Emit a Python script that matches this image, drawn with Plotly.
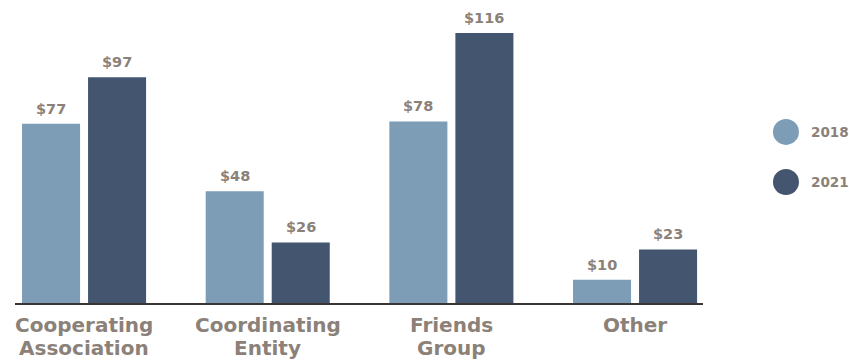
import plotly.graph_objects as go

# Categories and spending per group (in dollars)
categories = ["Cooperating\nAssociation", "Coordinating\nEntity", "Friends\nGroup", "Other"]
years = ["2018", "2021"]
values_2018 = [77, 48, 78, 10]
values_2021 = [97, 26, 116, 23]

colors = {"2018": "#7d9db6", "2021": "#44556f"}
text_color = "#8b8178"
font_family = "'DejaVu Sans', Verdana, sans-serif"

x_pos = list(range(len(categories)))
bar_shift = {"2018": -33, "2021": 33}  # pixel offset of each bar within its group

fig = go.Figure()
for year, vals in zip(years, [values_2018, values_2021]):
    fig.add_trace(go.Bar(
        x=x_pos,
        y=vals,
        name=year,
        marker=dict(color=colors[year], line=dict(width=0)),
        showlegend=False,
        hoverinfo="skip",
    ))
    # Dollar value above each bar
    for xp, v in zip(x_pos, vals):
        fig.add_annotation(
            x=xp, y=v, xref="x", yref="y",
            text=f"${v}", showarrow=False,
            xanchor="center", yanchor="bottom",
            xshift=bar_shift[year], yshift=5,
            font=dict(family=font_family, size=14.5, color=text_color, weight="bold"),
        )

# Category labels under the axis, one annotation per line for tight leading
for xp, label in zip(x_pos, categories):
    for i, line in enumerate(label.split("\n")):
        fig.add_annotation(
            x=xp, y=0, xref="x", yref="y",
            text=line, showarrow=False,
            xanchor="center", yanchor="middle",
            yshift=-22 - 23 * i,
            font=dict(family=font_family, size=20, color=text_color, weight="bold"),
        )

# Legend: circle swatches with year labels at the right side
legend_y = [0.588, 0.416]
for year, ly in zip(years, legend_y):
    fig.add_shape(
        type="circle", xref="paper", yref="paper",
        xsizemode="pixel", ysizemode="pixel",
        xanchor=1.1206, yanchor=ly,
        x0=-13, x1=13, y0=-13, y1=13,
        fillcolor=colors[year], line=dict(width=0),
    )
    fig.add_annotation(
        xref="paper", yref="paper", x=1.1566, y=ly,
        text=year, showarrow=False, xanchor="left", yanchor="middle",
        xshift=-2,
        font=dict(family=font_family, size=13.5, color=text_color, weight="bold"),
    )

fig.update_layout(
    width=849, height=361,
    margin=dict(l=15, r=146, t=12, b=58, autoexpand=False),
    paper_bgcolor="white", plot_bgcolor="white",
    barmode="group", bargap=0.281, bargroupgap=0.121,
    font=dict(family=font_family, color=text_color),
)
fig.update_xaxes(
    range=[-0.376, 3.37], showticklabels=False, automargin=False,
    showgrid=False, zeroline=False,
    showline=True, linecolor="#3a3532", linewidth=1.5, ticks="",
)
fig.update_yaxes(range=[0, 125], visible=False, showgrid=False, automargin=False)

fig.write_html("out.html")
